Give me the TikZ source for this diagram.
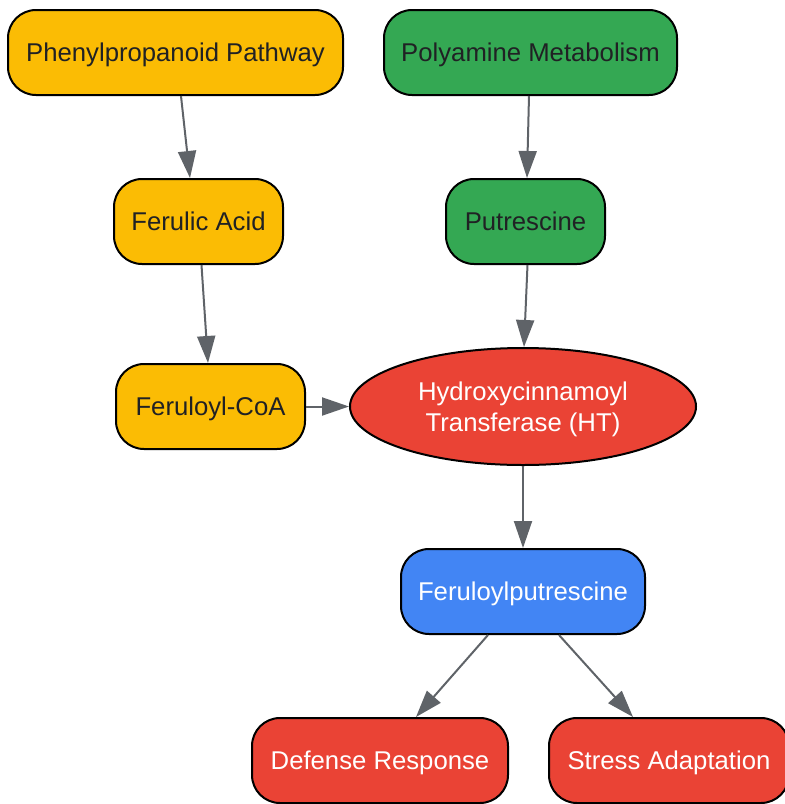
\documentclass[tikz,border=0pt]{standalone}
\usepackage{fontspec}
\setmainfont{Liberation Sans}
\usetikzlibrary{arrows.meta,positioning,shapes.geometric}

\definecolor{pathyellow}{HTML}{FBBC04}
\definecolor{pathgreen}{HTML}{34A853}
\definecolor{pathred}{HTML}{EA4335}
\definecolor{pathblue}{HTML}{4285F4}
\definecolor{edgegray}{HTML}{5F6368}
\definecolor{darktext}{HTML}{202124}

\tikzset{
	box/.style={draw=black, line width=1pt, rounded corners=14pt, minimum height=42.5pt, inner sep=0pt, text height=9.2pt, text depth=0pt, font=\fontsize{12.85}{15.5}\selectfont},
	ybox/.style={box, fill=pathyellow, text=darktext},
	gbox/.style={box, fill=pathgreen, text=darktext},
	rbox/.style={box, fill=pathred, text=white},
	bbox/.style={box, fill=pathblue, text=white},
	enzyme/.style={ellipse, draw=black, line width=1pt, fill=pathred, text=white, minimum width=173pt, minimum height=58.5pt, inner sep=0pt, align=center, text height=24.7pt, text depth=0pt, font=\fontsize{12.85}{15.5}\selectfont},
	flow/.style={draw=edgegray, line width=1pt, -{Triangle[length=13.5pt,width=9pt]}}
}

\begin{document}
\begin{tikzpicture}[x=0.5pt,y=-0.5pt]
\useasboundingbox (0,0) rectangle (784,804);

\node[ybox, minimum width=167.5pt] (phenyl) at (175.5,52.5) {Phenylpropanoid Pathway};
\node[gbox, minimum width=146.5pt] (polyam) at (530.5,52.5) {Polyamine Metabolism};
\node[ybox, minimum width=84.5pt] (ferulic) at (198.5,221.5) {Ferulic Acid};
\node[gbox, minimum width=79.5pt] (putres) at (525.5,221.5) {Putrescine};
\node[ybox, minimum width=94.5pt] (coa) at (210.5,406.5) {Feruloyl-CoA};
\node[enzyme] (ht) at (523,406.5) {Hydroxycinnamoyl\\Transferase (HT)};
\node[bbox, minimum width=122pt] (ferput) at (523,591.5) {Feruloylputrescine};
\node[rbox, minimum width=128pt] (defense) at (380,760.5) {Defense Response};
\node[rbox, minimum width=120pt] (stress) at (669,760.5) {Stress Adaptation};

\draw[flow] ([xshift=2.75pt]phenyl.south) to ([xshift=-4.25pt]ferulic.north);
\draw[flow] ([xshift=-0.75pt]polyam.south) to ([xshift=0.75pt]putres.north);
\draw[flow] ([xshift=1.5pt]ferulic.south) to ([xshift=-1.25pt]coa.north);
\draw[flow] ([xshift=1pt]putres.south) to ([xshift=0.5pt]ht.north);
\draw[flow] (coa.east) to (ht.west);
\draw[flow] (ht.south) to (ferput.north);
\draw[flow] ([xshift=-17.5pt]ferput.south) to ([xshift=18pt]defense.north);
\draw[flow] ([xshift=18pt]ferput.south) to ([xshift=-18pt]stress.north);

\end{tikzpicture}
\end{document}
